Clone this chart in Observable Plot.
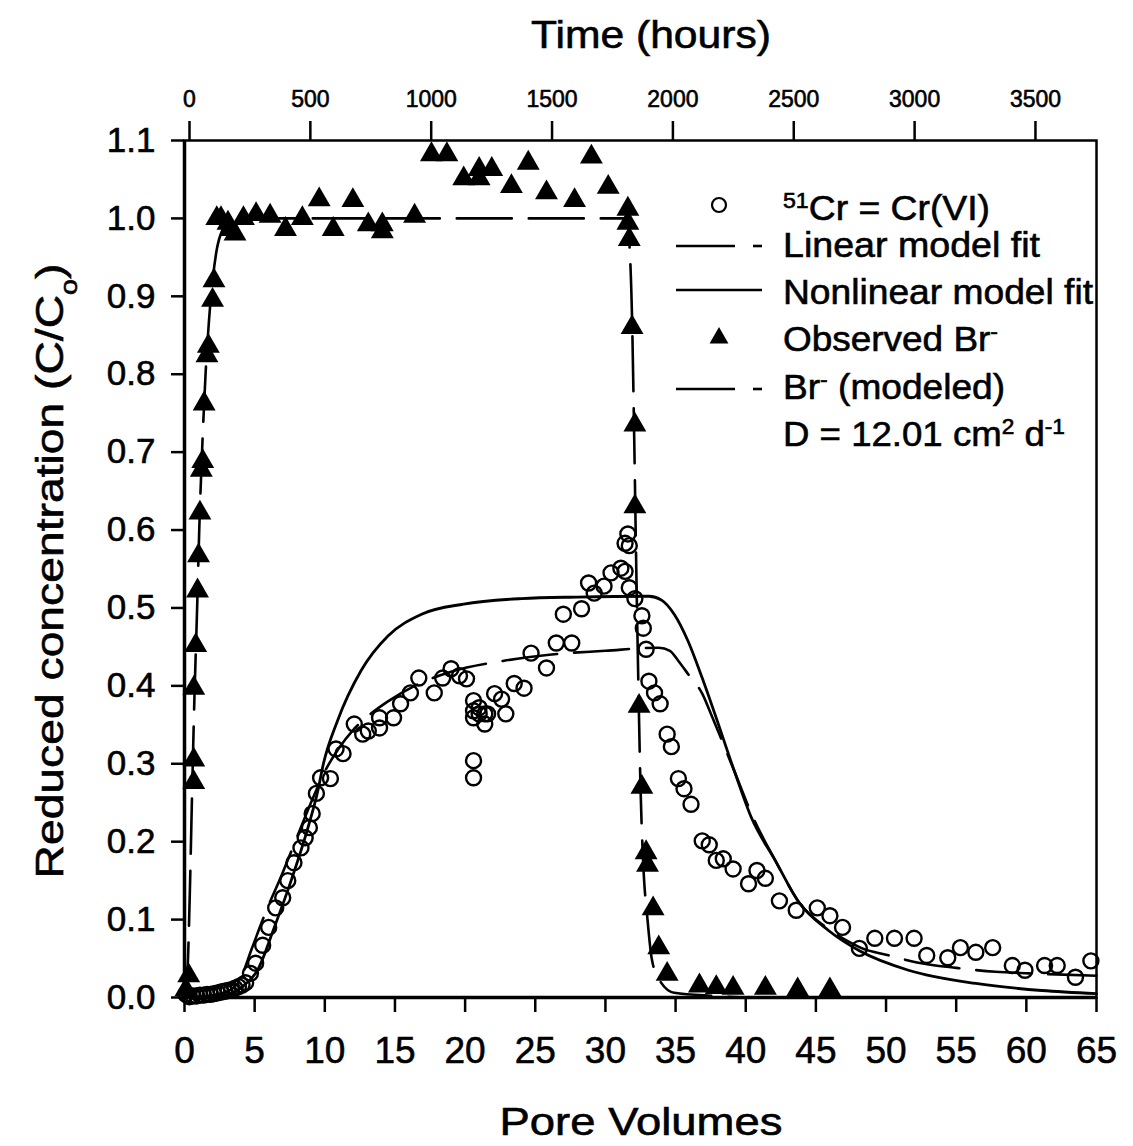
<!DOCTYPE html>
<html><head><meta charset="utf-8">
<script src="https://cdn.jsdelivr.net/npm/d3@7"></script>
<script src="https://cdn.jsdelivr.net/npm/@observablehq/plot@0.6"></script>
<style>html,body{margin:0;padding:0;background:#fff}#chart{width:1133px;height:1146px}
#chart svg text{stroke:black;stroke-width:0.6px}</style>
</head><body><div id="chart"></div>
<script>
// ---- axis ticks ----
const pvTicks = [0,5,10,15,20,25,30,35,40,45,50,55,60,65];
const concTicks = [0,0.1,0.2,0.3,0.4,0.5,0.6,0.7,0.8,0.9,1.0,1.1];
const hourTicks = [0,500,1000,1500,2000,2500,3000,3500];
const hoursAtZeroPV = -20.7;
const hoursPerPV = 58.05;

// ---- observed 51Cr = Cr(VI) : [pore volumes, C/Co] ----
const crObserved = [
 [0.1,0.004],[0.35,0.001],[0.6,0.002],[0.85,0.002],[1.1,0.003],[1.35,0.003],[1.6,0.004],[1.85,0.004],
 [2.1,0.005],[2.35,0.006],[2.6,0.007],[2.85,0.008],[3.1,0.009],[3.35,0.01],[3.6,0.012],[3.85,0.014],[4.1,0.016],
 [4.36,0.019],[4.7,0.031],[5.07,0.044],[5.57,0.067],[6.0,0.09],[6.5,0.115],[7.0,0.128],[7.36,0.15],[7.8,0.173],
 [8.3,0.192],[8.6,0.205],[8.9,0.218],[9.1,0.236],[9.4,0.262],[9.7,0.282],[10.4,0.281],[10.8,0.319],[11.3,0.313],
 [12.1,0.351],[12.7,0.338],[13.1,0.342],[13.9,0.346],[13.9,0.359],[14.9,0.359],[15.4,0.377],[16.1,0.391],[16.7,0.41],
 [17.8,0.391],[18.4,0.41],[19.0,0.422],[19.6,0.413],[20.1,0.409],[20.6,0.381],[20.6,0.368],[20.6,0.359],[20.6,0.304],
 [20.6,0.282],[21.0,0.372],[21.0,0.364],[21.4,0.364],[21.4,0.351],[21.6,0.364],[22.1,0.39],[22.6,0.383],[22.9,0.364],
 [23.5,0.403],[24.2,0.397],[24.7,0.442],[25.8,0.423],[26.5,0.455],[27.0,0.492],[27.6,0.455],[28.3,0.499],[28.8,0.532],
 [29.2,0.519],[29.9,0.528],[30.4,0.545],[31.1,0.551],[31.4,0.547],[31.4,0.583],[31.6,0.595],[31.7,0.58],[31.7,0.526],
 [32.1,0.512],[32.6,0.49],[32.7,0.474],[32.9,0.447],[33.1,0.406],[33.5,0.391],[33.9,0.377],[34.4,0.338],[34.7,0.322],
 [35.2,0.281],[35.6,0.268],[36.1,0.248],[36.9,0.201],[37.4,0.196],[37.9,0.176],[38.4,0.178],[39.1,0.165],[40.2,0.146],
 [40.8,0.163],[41.4,0.153],[42.4,0.124],[43.6,0.112],[45.1,0.115],[46.0,0.105],[46.9,0.09],[48.1,0.063],[49.2,0.076],
 [50.6,0.076],[52.0,0.076],[52.9,0.054],[54.4,0.051],[55.3,0.064],[56.4,0.058],[57.6,0.064],[59.0,0.041],[59.9,0.035],
 [61.3,0.041],[62.2,0.041],[63.5,0.026],[64.6,0.047]
];

// ---- linear model fit ----
const linearFit = [
 [0,0],[2,0.003],[3.3,0.01],[4.0,0.025],[4.8,0.063],[5.8,0.11],[6.9,0.156],[8.0,0.205],[9.2,0.258],[10.0,0.29],
 [11,0.32],[12,0.343],[13,0.36],[14.5,0.38],[16.4,0.4],[19,0.418],[22.7,0.432],[26,0.44],[30,0.445],[33.8,0.449],
 [34.6,0.445],[35.2,0.432],[35.9,0.415],[36.9,0.39],[37.5,0.365],[38.3,0.33],[39.2,0.29],[40.5,0.232],[42.1,0.176],
 [43.8,0.122],[45.9,0.088],[47.5,0.07],[48.3,0.063],[50,0.055],[52.2,0.045],[55,0.038],[57.8,0.033],[60.2,0.031],[65,0.028]
];

// ---- nonlinear model fit ----
const nonlinearFit = [
 [0,0],[2,0.001],[3.3,0.005],[4.2,0.015],[5.2,0.035],[6.4,0.09],[7.6,0.15],[8.8,0.218],[9.5,0.265],[9.9,0.3],
 [10.9,0.355],[12.6,0.42],[14.5,0.464],[16.9,0.492],[19.9,0.505],[24,0.512],[28,0.514],[33.1,0.515],[34,0.51],
 [34.9,0.492],[35.9,0.457],[36.9,0.41],[37.8,0.364],[39.2,0.29],[40.4,0.231],[42.1,0.176],[43.8,0.122],[45.9,0.086],
 [48.1,0.06],[51.6,0.035],[56.4,0.018],[61.1,0.009],[65,0.005]
];

// ---- observed Br- ----
const brObserved = [
 [0.1,0.01],[0.3,0.028],[0.66,0.276],[0.66,0.305],[0.66,0.397],[0.8,0.452],[0.93,0.522],[1.0,0.567],[1.1,0.622],
 [1.2,0.677],[1.3,0.688],[1.4,0.762],[1.6,0.824],[1.7,0.836],[2.0,0.895],[2.1,0.92],[2.3,1.0],[2.6,1.0],[3.1,0.994],
 [3.3,0.986],[3.6,0.98],[4.2,1.0],[5.1,1.005],[6.1,1.003],[7.2,0.986],[8.4,1.0],[9.6,1.024],[10.6,0.986],[12.0,1.023],
 [13.1,0.992],[14.1,0.992],[14.1,0.983],[16.4,1.003],[17.6,1.082],[18.7,1.082],[19.9,1.051],[21.0,1.063],[21.0,1.051],
 [21.9,1.063],[23.3,1.041],[24.5,1.071],[25.8,1.033],[27.8,1.023],[29.0,1.079],[30.2,1.04],[31.6,1.012],[31.6,0.994],
 [31.7,0.973],[31.9,0.86],[32.1,0.735],[32.1,0.63],[32.4,0.374],[32.6,0.27],[32.9,0.186],[33.0,0.17],[33.4,0.114],
 [33.8,0.064],[34.4,0.03],[36.7,0.015],[37.9,0.013],[39.1,0.012],[41.4,0.012],[43.7,0.01],[46.0,0.01]
];

// ---- Br- modeled (D = 12.01 cm2 d-1) ----
const brModeled = [
 [0.1,0],[0.25,0.05],[0.4,0.15],[0.55,0.27],[0.7,0.38],[0.9,0.5],[1.05,0.6],[1.25,0.7],[1.5,0.8],[1.75,0.87],
 [2.0,0.92],[2.3,0.96],[2.7,0.985],[3.2,0.995],[4,1.0],[31.5,1.0],[31.7,0.97],[31.9,0.87],[32.05,0.72],[32.2,0.55],
 [32.35,0.4],[32.5,0.27],[32.7,0.17],[33.0,0.1],[33.3,0.05],[33.8,0.024],[34.9,0.006],[37.8,0.002],[40,0]
];

const FONT = "'Liberation Sans', Arial, Helvetica, sans-serif";
const dash = "55,17";

const plot = Plot.plot({
  width: 1133, height: 1146,
  marginLeft: 184, marginRight: 37, marginTop: 140, marginBottom: 149,
  style: {fontFamily: FONT, color: "black", background: "white", overflow: "visible"},
  x: {domain: [0, 65]},
  y: {domain: [0, 1.1]},
  marks: [
    Plot.frame({stroke: "black", strokeWidth: 2.5}),
    Plot.ruleX([0], {stroke: "black", strokeWidth: 3.5}),
    Plot.ruleY([0], {stroke: "black", strokeWidth: 3.5}),
    Plot.axisX({anchor: "bottom", ticks: pvTicks, tickFormat: d => String(d), tickSize: 15, tickPadding: 24,
      fontSize: 37, strokeWidth: 2.5, label: null}),
    Plot.axisX({anchor: "top", ticks: hourTicks.map(h => (h - hoursAtZeroPV) / hoursPerPV),
      tickFormat: d => String(Math.round((d * hoursPerPV + hoursAtZeroPV) / 10) * 10),
      tickSize: 20, tickPadding: 14, fontSize: 23, strokeWidth: 2.5, label: null}),
    Plot.axisY({anchor: "left", ticks: concTicks, tickFormat: d3.format(".1f"), tickSize: 13, tickPadding: 16,
      fontSize: 35, strokeWidth: 2.5, label: null}),
    Plot.line(brModeled, {x: d => d[0], y: d => d[1], stroke: "black", strokeWidth: 2.6, strokeDasharray: dash, curve: "monotone-x"}),
    Plot.line(linearFit, {x: d => d[0], y: d => d[1], stroke: "black", strokeWidth: 2.6, strokeDasharray: dash, curve: "monotone-x"}),
    Plot.line(nonlinearFit, {x: d => d[0], y: d => d[1], stroke: "black", strokeWidth: 2.8, curve: "monotone-x"}),
    Plot.dot(crObserved, {x: d => d[0], y: d => d[1], r: 7.5, stroke: "black", strokeWidth: 2.4, fill: "none"}),
    Plot.dot(brObserved, {x: d => d[0], y: d => d[1], r: 8.5, symbol: "triangle", fill: "black", stroke: "none"})
  ]
});
document.getElementById("chart").appendChild(plot);

// ---- titles and legend ----
const svg = d3.select(plot);
function addText(x, y, parts, size, len, anchor = "start", rotate = false) {
  const t = svg.append("text")
    .attr("font-family", FONT).attr("font-size", size).attr("fill", "black")
    .attr("text-anchor", anchor);
  if (rotate) t.attr("transform", `translate(${x},${y}) rotate(-90)`);
  else t.attr("x", x).attr("y", y);
  if (len) t.attr("textLength", len).attr("lengthAdjust", "spacingAndGlyphs");
  for (const p of parts) {
    const s = t.append("tspan").text(p.t);
    if (p.sup) s.attr("font-size", size * 0.62).attr("baseline-shift", "super");
    if (p.sub) s.attr("font-size", size * 0.62).attr("baseline-shift", "sub");
  }
  return t;
}
addText(651, 48, [{t: "Time (hours)"}], 38, 240, "middle");
addText(641, 1135, [{t: "Pore Volumes"}], 39, 283, "middle");
addText(63, 571, [{t: "Reduced concentration (C/C"}, {t: "o", sub: true}, {t: ")"}], 39, 615, "middle", true);

const lx = 783;
const items = [
  {y: 220, parts: [{t: "51", sup: true}, {t: "Cr = Cr(VI)"}], len: 207},
  {y: 257, parts: [{t: "Linear model fit"}], len: 257},
  {y: 304, parts: [{t: "Nonlinear model fit"}], len: 310},
  {y: 351, parts: [{t: "Observed Br"}, {t: "-", sup: true}], len: 215},
  {y: 399, parts: [{t: "Br"}, {t: "-", sup: true}, {t: " (modeled)"}], len: 222},
  {y: 446, parts: [{t: "D = 12.01 cm"}, {t: "2", sup: true}, {t: " d"}, {t: "-1", sup: true}], len: 282}
];
for (const it of items) addText(lx, it.y, it.parts, 35, it.len);

const g = svg.append("g").attr("stroke", "black").attr("stroke-width", 2.6).attr("fill", "none");
g.append("circle").attr("cx", 719).attr("cy", 205).attr("r", 7).attr("stroke-width", 2.2);
g.append("line").attr("x1", 676).attr("x2", 735).attr("y1", 246).attr("y2", 246);
g.append("line").attr("x1", 753).attr("x2", 762).attr("y1", 246).attr("y2", 246);
g.append("line").attr("x1", 676).attr("x2", 762).attr("y1", 290).attr("y2", 290);
g.append("path").attr("d", d3.symbol(d3.symbolTriangle, Math.PI * 49)()).attr("transform", "translate(719,338)")
  .attr("fill", "black").attr("stroke", "none");
g.append("line").attr("x1", 676).attr("x2", 735).attr("y1", 389).attr("y2", 389);
g.append("line").attr("x1", 753).attr("x2", 762).attr("y1", 389).attr("y2", 389);
</script>
</body></html>
